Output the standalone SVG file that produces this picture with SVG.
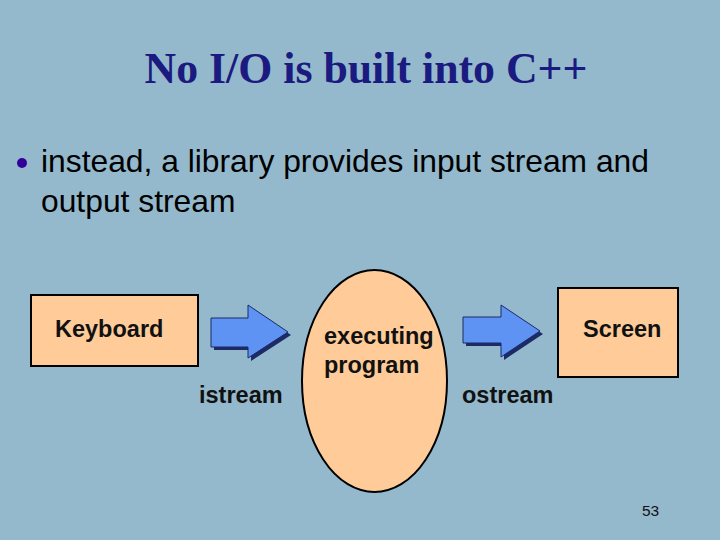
<svg xmlns="http://www.w3.org/2000/svg" width="720" height="540" viewBox="0 0 720 540">
<defs>
<style>
.bg{fill:#94b9cc}
.box{fill:#ffcc99;stroke:#000;stroke-width:2}
.arrow{fill:#5f93f3;stroke:#1a2a66;stroke-width:1}
.shadow{fill:#1c2b66}
.lbl{font-family:"Liberation Sans",Arial,sans-serif;font-weight:bold;font-size:23.5px;fill:#111}
.body{font-family:"Liberation Sans",Arial,sans-serif;font-size:31.8px;fill:#000}
.title{font-family:"Liberation Serif","Times New Roman",serif;font-weight:bold;font-size:43.8px;fill:#1a1a80}
</style>
</defs>
<rect class="bg" x="0" y="0" width="720" height="540"/>
<text class="title" x="366" y="83" text-anchor="middle">No I/O is built into C++</text>
<circle cx="22" cy="163" r="5" fill="#330099"/>
<text class="body" x="41" y="172">instead, a library provides input stream and</text>
<text class="body" x="41" y="212">output stream</text>
<g id="keyboard">
<rect class="box" x="31" y="295" width="167" height="71"/>
<text class="lbl" x="55" y="337">Keyboard</text>
</g>
<g id="program">
<ellipse class="box" cx="374.5" cy="381" rx="72.5" ry="111"/>
<text class="lbl" x="324" y="344">executing</text>
<text class="lbl" x="324" y="373">program</text>
</g>
<g id="screen">
<rect class="box" x="558" y="288" width="120" height="89"/>
<text class="lbl" x="583" y="337">Screen</text>
</g>
<g id="connectors">
<g id="istream-arrow">
<polygon class="shadow" points="214,321 251,321 251,308 291,335 251,361 251,350 214,350"/>
<polygon class="arrow" points="211,318 248,318 248,305 288,332 248,358 248,347 211,347"/>
</g>
<g id="ostream-arrow">
<polygon class="shadow" points="466,320 504,320 504,308 543,334 504,360 504,346 466,346"/>
<polygon class="arrow" points="463,317 501,317 501,305 540,331 501,357 501,343 463,343"/>
</g>
<text class="lbl" x="199" y="403">istream</text>
<text class="lbl" x="462" y="403">ostream</text>
</g>
<text x="642" y="516" font-family="'Liberation Sans',Arial,sans-serif" font-size="15.5" fill="#111">53</text>
</svg>
